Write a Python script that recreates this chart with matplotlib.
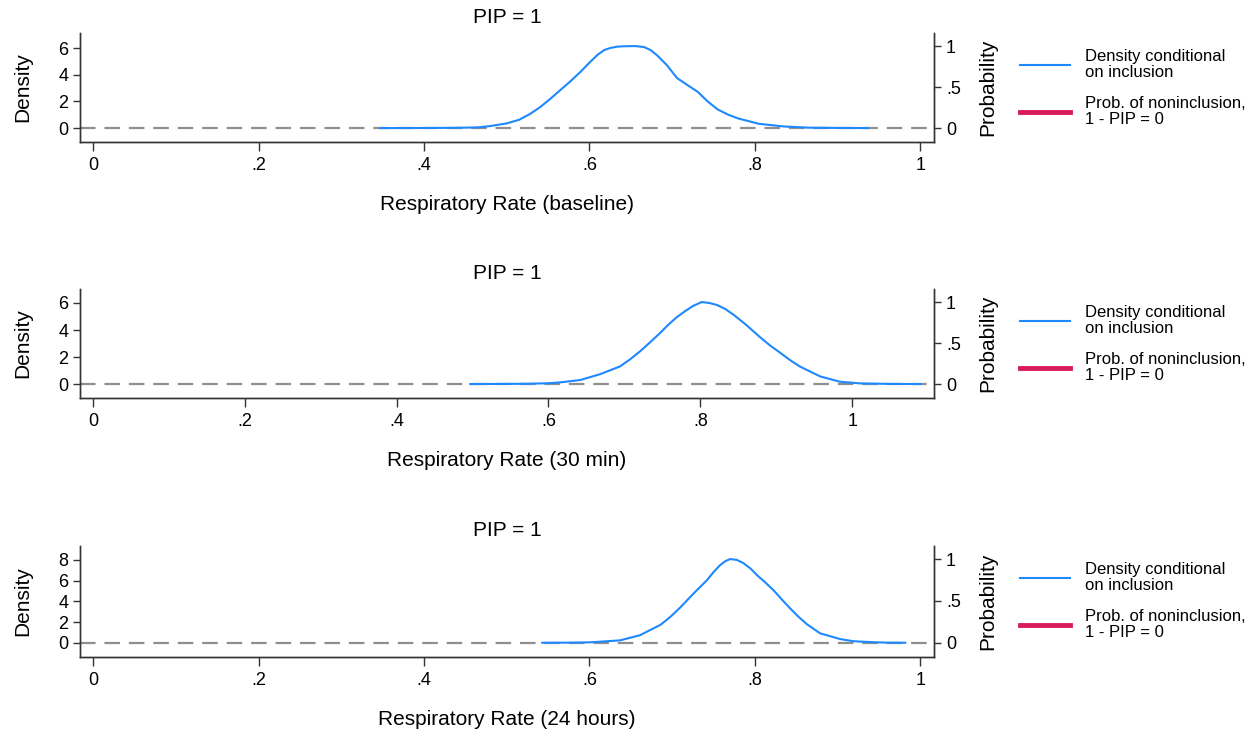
import numpy as np
import matplotlib.pyplot as plt
from matplotlib.lines import Line2D

plt.rcParams['font.family'] = ['Liberation Sans', 'DejaVu Sans']

# ==================== 数据 ====================
base_x = [0.347, 0.40, 0.44, 0.465, 0.48, 0.50, 0.515, 0.528, 0.54, 0.552, 0.563, 0.576,
          0.589, 0.60, 0.61, 0.618, 0.625, 0.633, 0.64, 0.655, 0.666, 0.674, 0.682, 0.694,
          0.706, 0.718, 0.731, 0.743, 0.755, 0.768, 0.78, 0.805, 0.835, 0.865, 0.90, 0.937]
base_d = [0.0, 0.005, 0.02, 0.05, 0.15, 0.35, 0.62, 1.05, 1.55, 2.15, 2.75, 3.45,
          4.2, 4.9, 5.5, 5.85, 6.0, 6.1, 6.13, 6.15, 6.08, 5.85, 5.45, 4.7,
          3.75, 3.25, 2.72, 2.0, 1.4, 1.0, 0.72, 0.32, 0.12, 0.03, 0.01, 0.0]

min30_x = [0.497, 0.54, 0.57, 0.60, 0.615, 0.642, 0.668, 0.694, 0.708, 0.721, 0.734, 0.747,
           0.758, 0.769, 0.78, 0.791, 0.802, 0.812, 0.822, 0.833, 0.844, 0.861, 0.879,
           0.892, 0.905, 0.918, 0.931, 0.958, 0.984, 1.01, 1.05, 1.09]
min30_d = [0.0, 0.01, 0.02, 0.06, 0.12, 0.3, 0.73, 1.3, 1.85, 2.44, 3.1, 3.78,
           4.4, 4.95, 5.4, 5.8, 6.07, 6.0, 5.85, 5.55, 5.12, 4.35, 3.45,
           2.85, 2.32, 1.78, 1.3, 0.56, 0.17, 0.05, 0.01, 0.0]

hr24_x = [0.543, 0.58, 0.60, 0.613, 0.637, 0.661, 0.686, 0.698, 0.710, 0.726, 0.742, 0.750,
          0.758, 0.764, 0.770, 0.778, 0.786, 0.795, 0.803, 0.813, 0.823, 0.833, 0.843,
          0.853, 0.863, 0.879, 0.903, 0.919, 0.943, 0.96, 0.982]
hr24_d = [0.0, 0.01, 0.04, 0.1, 0.23, 0.72, 1.73, 2.5, 3.41, 4.75, 6.02, 6.8,
          7.48, 7.85, 8.07, 8.0, 7.7, 7.15, 6.5, 5.8, 5.04, 4.15, 3.3,
          2.5, 1.79, 0.91, 0.36, 0.15, 0.05, 0.01, 0.0]

curves_x = [base_x, min30_x, hr24_x]
curves_d = [base_d, min30_d, hr24_d]
titles = ['PIP = 1', 'PIP = 1', 'PIP = 1']
xlabels = ['Respiratory Rate (baseline)', 'Respiratory Rate (30 min)',
           'Respiratory Rate (24 hours)']
density_ticks = [[0, 2, 4, 6], [0, 2, 4, 6], [0, 2, 4, 6, 8]]
prob_ticks = [0, 0.5, 1]
prob_ticklabels = ['0', '.5', '1']
x_ticks = [0, 0.2, 0.4, 0.6, 0.8, 1]
x_ticklabels = ['0', '.2', '.4', '.6', '.8', '1']
xlims = [(-0.016, 1.017), (-0.017, 1.108), (-0.016, 1.017)]
legend_labels = ['Density conditional\non inclusion', 'Prob. of noninclusion,\n1 - PIP = 0']

BLUE = '#1e88ff'
RED = '#d81b5c'
GRAY = '#8f8f8f'
AXC = '#333333'

# ==================== 画图 ====================
fig = plt.figure(figsize=(12.58, 7.32), dpi=100)
positions = [[0.0636, 0.806, 0.679, 0.149],
             [0.0636, 0.4563, 0.679, 0.149],
             [0.0636, 0.1025, 0.679, 0.152]]

for i in range(3):
    ax = fig.add_axes(positions[i])
    dmax = max(curves_d[i])

    ax.axhline(0, color=GRAY, lw=1.6, dashes=(7, 4), zorder=1)
    ax.plot(curves_x[i], curves_d[i], color=BLUE, lw=1.5, zorder=2)

    ax.set_xlim(*xlims[i])
    ax.set_ylim(-0.17 * dmax, 1.16 * dmax)
    ax.set_xticks(x_ticks)
    ax.set_xticklabels(x_ticklabels)
    ax.set_yticks(density_ticks[i])
    ax.set_yticklabels([str(t) for t in density_ticks[i]])

    for s in ['left', 'bottom', 'right']:
        ax.spines[s].set_color(AXC)
        ax.spines[s].set_linewidth(1.0)
    ax.spines['top'].set_visible(False)
    ax.tick_params(axis='x', length=6.5, width=1.0, color=AXC, labelsize=13, pad=4)
    ax.tick_params(axis='y', length=5, width=1.0, color=AXC, labelsize=13, pad=3.5)

    ax.set_title(titles[i], fontsize=15, pad=7)
    ax.set_xlabel(xlabels[i], fontsize=15, labelpad=15.5)
    ax.set_ylabel('Density', fontsize=15)
    ax.yaxis.set_label_coords(-0.056, 0.5)

    # 右侧概率轴：1 对应密度最大值
    ax2 = ax.twinx()
    lo, hi = ax.get_ylim()
    ax2.set_ylim(lo / dmax, hi / dmax)
    ax2.set_yticks(prob_ticks)
    ax2.set_yticklabels(prob_ticklabels)
    ax2.tick_params(axis='y', length=5, width=1.0, color=AXC, labelsize=13, pad=3.5)
    for s in ['left', 'bottom', 'right']:
        ax2.spines[s].set_color(AXC)
        ax2.spines[s].set_linewidth(1.0)
    ax2.spines['top'].set_visible(False)
    ax2.set_ylabel('Probability', fontsize=15)
    ax2.yaxis.set_label_coords(1.0515, 0.5)

    handles = [Line2D([], [], color=BLUE, lw=1.5),
               Line2D([], [], color=RED, lw=3.5)]
    leg = ax.legend(handles, legend_labels, loc='upper left', bbox_to_anchor=(1.1007, 0.85),
                    frameon=False, fontsize=12, handlelength=3.0, handletextpad=0.9,
                    labelspacing=0.95, borderpad=0, borderaxespad=0)
    for t in leg.get_texts():
        t.set_linespacing(1.08)

plt.savefig('out.png', dpi=100)
